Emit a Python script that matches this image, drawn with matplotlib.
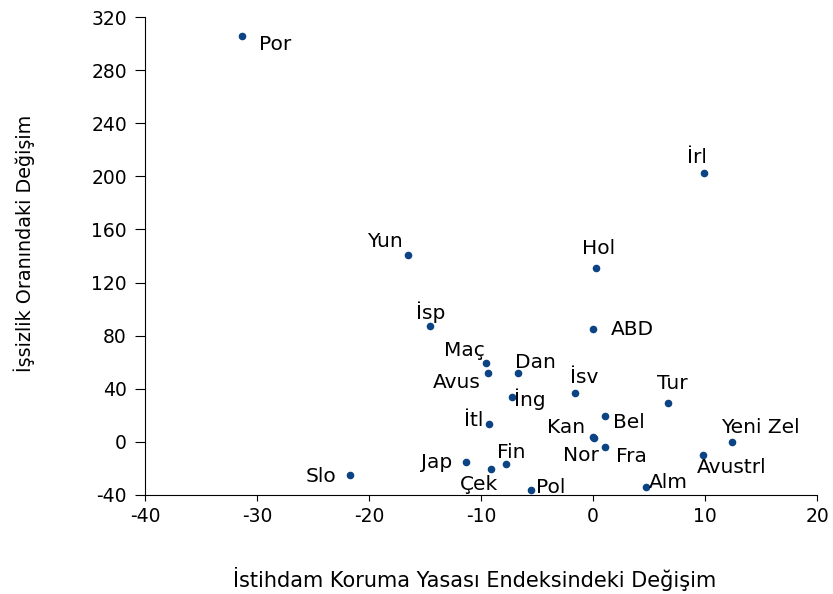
import matplotlib.pyplot as plt

plt.rcParams['font.family'] = ['DejaVu Sans']
plt.rcParams['axes.unicode_minus'] = False

# ülke kodları ve değerler
ulkeler = ['Por', 'İrl', 'Yun', 'Hol', 'İsp', 'ABD', 'Maç', 'Avus', 'Dan', 'İsv',
           'İng', 'Tur', 'Bel', 'İtl', 'Kan', 'Nor', 'Fra', 'Yeni Zel', 'Avustrl',
           'Jap', 'Fin', 'Çek', 'Slo', 'Pol', 'Alm']
epl_degisim = [-31.3, 9.9, -16.5, 0.3, -14.6, 0.0, -9.6, -9.35, -6.7, -1.6,
               -7.2, 6.7, 1.1, -9.3, 0.0, 0.05, 1.1, 12.4, 9.8,
               -11.3, -7.8, -9.1, -21.7, -5.5, 4.7]
issizlik_degisim = [305.7, 202.3, 141.1, 130.8, 87.3, 84.8, 59.1, 51.9, 52.0, 36.8,
                    33.4, 29.4, 19.6, 13.6, 3.3, 3.0, -4.3, -0.5, -10.0,
                    -15.6, -17.1, -20.9, -25.1, -36.7, -34.0]

# etiket konumu (piksel kaydırma, hizalama)
etiket_yeri = {
    'Por': (17, -8, 'left'), 'İrl': (-7, 16, 'center'), 'Yun': (-23, 13, 'center'),
    'Hol': (2, 20, 'center'), 'İsp': (1, 14, 'center'), 'ABD': (18, 0, 'left'),
    'Maç': (-21, 13, 'center'), 'Avus': (-8, -10, 'right'), 'Dan': (17, 10, 'center'),
    'İsv': (9, 15, 'center'), 'İng': (2, -2, 'left'), 'Tur': (4, 19, 'center'),
    'Bel': (8, -7, 'left'), 'İtl': (-6, 3, 'right'), 'Kan': (-8, 10, 'right'),
    'Nor': (5, -18, 'right'), 'Fra': (11, -9, 'left'), 'Yeni Zel': (28, 15, 'center'),
    'Avustrl': (-6, -12, 'left'), 'Jap': (-14, 0, 'right'), 'Fin': (6, 12, 'center'),
    'Çek': (-12, -15, 'center'), 'Slo': (-14, -1, 'right'), 'Pol': (5, 3, 'left'),
    'Alm': (3, 4, 'left'),
}

fig = plt.figure(figsize=(8.33, 5.94), dpi=100)
ax = fig.add_axes([0.174, 0.167, 0.807, 0.804])

ax.scatter(epl_degisim, issizlik_degisim, s=20, color='#0b4384', zorder=3)

for ad, x, y in zip(ulkeler, epl_degisim, issizlik_degisim):
    dx, dy, ha = etiket_yeri[ad]
    ax.annotate(ad, (x, y), xytext=(dx, dy), textcoords='offset pixels',
                ha=ha, va='center', fontsize=14.5)

ax.set_xlim(-40, 20)
ax.set_ylim(-40, 320)
ax.set_xticks([-40, -30, -20, -10, 0, 10, 20])
ax.set_yticks(range(-40, 321, 40))
ax.spines['top'].set_visible(False)
ax.spines['right'].set_visible(False)
ax.tick_params(direction='out', labelsize=13.5)
ax.tick_params(axis='y', length=7, pad=6)
ax.tick_params(axis='x', length=4, pad=5)

ax.set_xlabel('İstihdam Koruma Yasası Endeksindeki Değişim', fontsize=15)
ax.set_ylabel('İşsizlik Oranındaki Değişim', fontsize=13.8)
ax.xaxis.set_label_coords(0.491, -0.152)
ax.yaxis.set_label_coords(-0.163, 0.526)

fig.savefig('out.png', dpi=100)
